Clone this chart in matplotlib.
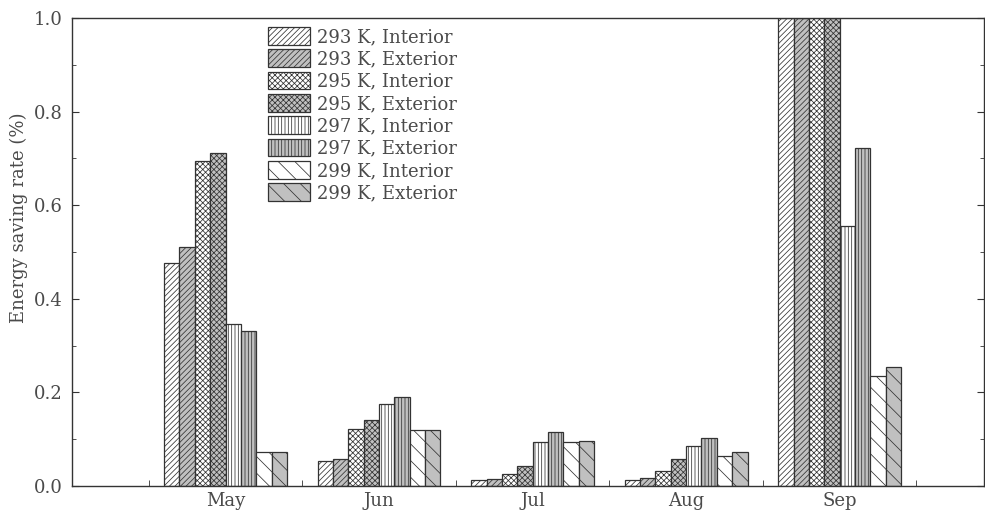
import matplotlib
matplotlib.use("Agg")
import matplotlib.pyplot as plt
import numpy as np
from matplotlib.ticker import FixedLocator, MultipleLocator, FormatStrFormatter

months = ["May", "Jun", "Jul", "Aug", "Sep"]
series_labels = [
    "293 K, Interior", "293 K, Exterior",
    "295 K, Interior", "295 K, Exterior",
    "297 K, Interior", "297 K, Exterior",
    "299 K, Interior", "299 K, Exterior",
]
k293_interior = [0.476, 0.053, 0.013, 0.012, 1.0]
k293_exterior = [0.511, 0.058, 0.016, 0.018, 1.0]
k295_interior = [0.695, 0.121, 0.026, 0.033, 1.0]
k295_exterior = [0.712, 0.140, 0.043, 0.057, 1.0]
k297_interior = [0.346, 0.175, 0.095, 0.085, 0.556]
k297_exterior = [0.331, 0.190, 0.115, 0.103, 0.722]
k299_interior = [0.073, 0.120, 0.093, 0.065, 0.234]
k299_exterior = [0.073, 0.119, 0.097, 0.073, 0.254]

series = [k293_interior, k293_exterior, k295_interior, k295_exterior,
          k297_interior, k297_exterior, k299_interior, k299_exterior]
hatches = ["//////", "//////", "xxxxxx", "xxxxxx", "|||||", "|||||", "\\\\", "\\\\"]
fills = ["white", "#c0c0c0"] * 4

text_color = "#4a4a4a"
fs = 13
plt.rcParams["font.family"] = ["DejaVu Serif"]
plt.rcParams["hatch.linewidth"] = 0.55
plt.rcParams["hatch.color"] = "#333333"

fig = plt.figure(figsize=(9.85, 5.15), dpi=100)
ax = fig.add_axes([72 / 985, 29 / 515, 912 / 985, 468 / 515])

x = np.arange(len(months))
width = 0.1
for i, (vals, lab) in enumerate(zip(series, series_labels)):
    offset = (i - 3.5) * width
    ax.bar(x + offset, vals, width, label=lab, color=fills[i],
           hatch=hatches[i], edgecolor="#333333", linewidth=0.9)

ax.set_xlim(-1.0, 4.94)
ax.set_ylim(0, 1.0)

ax.xaxis.set_major_locator(FixedLocator(x))
ax.set_xticklabels(months)
ax.xaxis.set_minor_locator(FixedLocator(np.arange(-0.5, 5.0, 1.0)))
ax.tick_params(axis="x", which="major", length=0, pad=4,
               labelsize=fs, labelcolor=text_color)
ax.tick_params(axis="x", which="minor", direction="in", length=4,
               color="#333333", top=False)

ax.yaxis.set_major_locator(MultipleLocator(0.2))
ax.yaxis.set_minor_locator(MultipleLocator(0.1))
ax.yaxis.set_major_formatter(FormatStrFormatter("%.1f"))
ax.tick_params(axis="y", which="both", direction="in", right=True,
               labelsize=fs, labelcolor=text_color, color="#333333")
ax.tick_params(axis="y", which="major", length=5, pad=7)
ax.tick_params(axis="y", which="minor", length=3)

ax.set_ylabel("Energy saving rate (%)", fontsize=fs, color=text_color)
ax.yaxis.set_label_coords(-(72 - 28) / 912, 0.573)

for sp in ax.spines.values():
    sp.set_color("#333333")
    sp.set_linewidth(1.0)

leg = ax.legend(loc="upper left", bbox_to_anchor=(0.215, 0.981),
                frameon=False, fontsize=fs, handlelength=2.33,
                handleheight=1.15, labelspacing=0.18, handletextpad=0.39,
                borderpad=0, borderaxespad=0)
for t in leg.get_texts():
    t.set_color(text_color)

fig.savefig("out.png", dpi=100)
